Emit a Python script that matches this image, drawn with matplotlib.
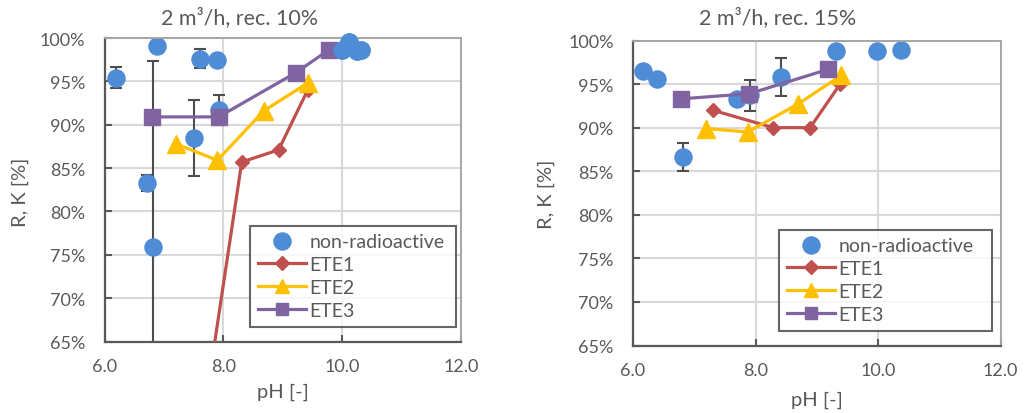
import matplotlib
matplotlib.use("Agg")
import matplotlib.pyplot as plt
from matplotlib.ticker import FuncFormatter
from matplotlib.lines import Line2D

plt.rcParams['font.family'] = ['Lato', 'DejaVu Sans']

# ---- data: 2 m3/h, recovery 10 % ----
nr10_ph = [6.20, 6.88, 7.61, 7.90, 7.93, 7.51, 6.71, 6.82, 10.00, 10.12, 10.25, 10.32]
nr10_r = [95.4, 99.1, 97.6, 97.5, 91.7, 88.5, 83.3, 75.9, 98.6, 99.5, 98.5, 98.6]
nr10_err = [1.2, 0.0, 1.1, 0.0, 1.7, 4.4, 0.9, 21.4, 0.0, 0.0, 0.0, 0.0]

ete1_10_ph = [7.80, 8.31, 8.93, 9.42]
ete1_10_r = [62.4, 85.7, 87.1, 94.0]
ete2_10_ph = [7.20, 7.90, 8.68, 9.42]
ete2_10_r = [87.8, 85.9, 91.6, 94.8]
ete3_10_ph = [6.80, 7.92, 9.22, 9.77]
ete3_10_r = [90.9, 90.9, 96.0, 98.6]

# ---- data: 2 m3/h, recovery 15 % ----
nr15_ph = [6.17, 6.39, 6.82, 7.69, 7.91, 8.41, 9.31, 9.98, 10.38]
nr15_r = [96.5, 95.6, 86.6, 93.3, 93.7, 95.8, 98.8, 98.8, 98.9]
nr15_err = [0.0, 0.0, 1.6, 0.0, 1.8, 2.2, 0.0, 0.0, 0.0]

ete1_15_ph = [7.30, 8.29, 8.89, 9.38]
ete1_15_r = [92.0, 90.0, 90.0, 95.0]
ete2_15_ph = [7.19, 7.87, 8.69, 9.40]
ete2_15_r = [89.9, 89.5, 92.7, 96.0]
ete3_15_ph = [6.78, 7.90, 9.19]
ete3_15_r = [93.3, 93.9, 96.7]

titles = ["2 m³/h, rec. 10%", "2 m³/h, rec. 15%"]
x_ticks = [6.0, 8.0, 10.0, 12.0]
y_ticks = [65, 70, 75, 80, 85, 90, 95, 100]
series_labels = ['non-radioactive', 'ETE1', 'ETE2', 'ETE3']

BLUE = '#4F8CD6'
RED = '#C0504D'
YELLOW = '#FFC000'
PURPLE = '#8064A2'
TXT = '#595959'
AXC = '#595959'
GRID = '#D9D9D9'
ERRC = '#4D4D4D'
FS = 13
FS_LABEL = 14.5

fig = plt.figure(figsize=(10.25, 4.14), dpi=100)
ax1 = fig.add_axes([104.5 / 1025, 1 - 342.5 / 414, 356.5 / 1025, 303.5 / 414])
ax2 = fig.add_axes([633.0 / 1025, 1 - 346.5 / 414, 367.7 / 1025, 305.0 / 414])


def style_axes(ax):
    ax.set_xlim(6.0, 12.0)
    ax.set_ylim(65, 100)
    ax.set_xticks(x_ticks)
    ax.set_yticks(y_ticks)
    ax.xaxis.set_major_formatter(FuncFormatter(lambda v, p: f"{v:.1f}"))
    ax.yaxis.set_major_formatter(FuncFormatter(lambda v, p: f"{v:.0f}%"))
    ax.grid(True, color=GRID, linewidth=1.5, zorder=0)
    ax.set_axisbelow(True)
    ax.tick_params(axis='both', direction='in', length=5, width=1.5,
                   color=AXC, labelcolor=TXT, labelsize=FS)
    ax.tick_params(axis='y', pad=14)
    ax.tick_params(axis='x', pad=12)
    for side in ('left', 'bottom'):
        ax.spines[side].set_color(AXC)
        ax.spines[side].set_linewidth(1.6)
    for side in ('top', 'right'):
        ax.spines[side].set_color('#A6A6A6')
        ax.spines[side].set_linewidth(1.4)


def draw_panel(ax, nph, nr, nerr, e1, e2, e3):
    style_axes(ax)
    for ph, r, err in zip(nph, nr, nerr):
        if err > 0:
            ax.errorbar([ph], [r], yerr=[err], fmt='none', ecolor=ERRC,
                        elinewidth=1.5, capsize=4, capthick=1.5, zorder=2.4)
    ax.plot(e1[0], e1[1], color=RED, lw=2.3, marker='D', ms=6.8, zorder=3)
    ax.plot(e2[0], e2[1], color=YELLOW, lw=2.3, marker='^', ms=12.5, zorder=3.1)
    ax.plot(e3[0], e3[1], color=PURPLE, lw=2.3, marker='s', ms=11, zorder=3.2)
    ax.plot(nph, nr, ls='none', marker='o', ms=12.3, color=BLUE,
            zorder=2.5, clip_on=False)


def add_legend(ax, anchor):
    handles = [
        Line2D([], [], ls='none', marker='o', ms=12.3, color=BLUE),
        Line2D([], [], color=RED, lw=2.3, marker='D', ms=6.8),
        Line2D([], [], color=YELLOW, lw=2.3, marker='^', ms=10),
        Line2D([], [], color=PURPLE, lw=2.3, marker='s', ms=8.5),
    ]
    lg = ax.legend(handles, series_labels, loc='upper left', bbox_to_anchor=anchor,
                   mode='expand', fontsize=14, frameon=True, fancybox=False,
                   handlelength=2.5, handletextpad=0.15, labelspacing=0.3,
                   borderpad=0.4, borderaxespad=0.0, labelcolor=TXT)
    fr = lg.get_frame()
    fr.set_edgecolor('#404040')
    fr.set_linewidth(1.5)
    lg.set_zorder(6)


draw_panel(ax1, nr10_ph, nr10_r, nr10_err,
           (ete1_10_ph, ete1_10_r), (ete2_10_ph, ete2_10_r), (ete3_10_ph, ete3_10_r))
# the high-pH group sits over the ETE3 end point
hi = [(p, r) for p, r in zip(nr10_ph, nr10_r) if p >= 9.9]
ax1.plot([p for p, _ in hi], [r for _, r in hi], ls='none', marker='o', ms=12.3,
         color=BLUE, zorder=5, clip_on=False)
add_legend(ax1, (0.408, 0.382, 0.578, 0.0))

draw_panel(ax2, nr15_ph, nr15_r, nr15_err,
           (ete1_15_ph, ete1_15_r), (ete2_15_ph, ete2_15_r), (ete3_15_ph, ete3_15_r))
add_legend(ax2, (0.397, 0.380, 0.5785, 0.0))

# titles and axis labels
fig.text(240 / 1025, 1 - 18 / 414, titles[0], ha='center', va='center',
         fontsize=15.5, color=TXT)
fig.text(777.5 / 1025, 1 - 18 / 414, titles[1], ha='center', va='center',
         fontsize=15.5, color=TXT)
fig.text(20 / 1025, 1 - 192 / 414, 'R, K [%]', rotation=90, ha='center', va='center',
         fontsize=FS_LABEL, color=TXT)
fig.text(546 / 1025, 1 - 194 / 414, 'R, K [%]', rotation=90, ha='center', va='center',
         fontsize=FS_LABEL, color=TXT)
fig.text(283 / 1025, 1 - 392 / 414, 'pH [-]', ha='center', va='center',
         fontsize=FS_LABEL, color=TXT)
fig.text(817 / 1025, 1 - 400 / 414, 'pH [-]', ha='center', va='center',
         fontsize=FS_LABEL, color=TXT)

fig.savefig('out.png', dpi=100, facecolor='white')
